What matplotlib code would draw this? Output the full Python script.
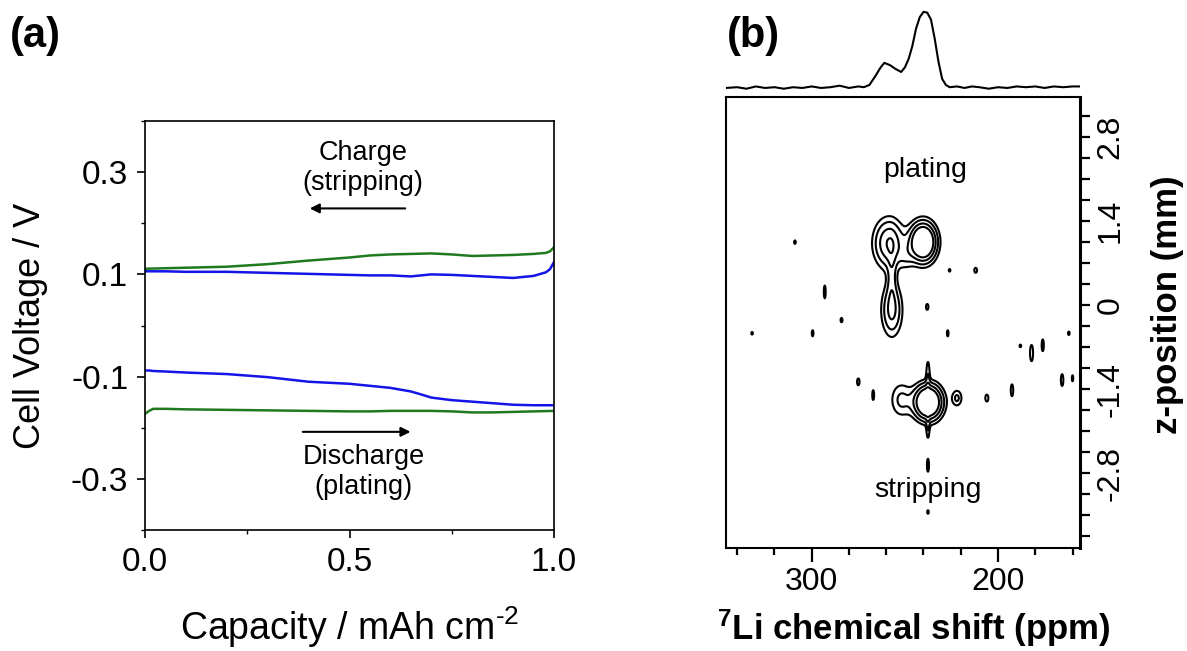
import numpy as np
import matplotlib
matplotlib.use("Agg")
import matplotlib.pyplot as plt
from matplotlib.ticker import MultipleLocator

plt.rcParams['font.family'] = ['Liberation Sans', 'DejaVu Sans']
plt.rcParams['mathtext.fontset'] = 'custom'
plt.rcParams['mathtext.rm'] = 'Liberation Sans'
plt.rcParams['mathtext.bf'] = 'Liberation Sans:bold'

# (a) voltage profiles
cap_charge = [0, 0.05, 0.1, 0.15, 0.2, 0.3, 0.4, 0.5, 0.55, 0.6, 0.65, 0.7, 0.75,
              0.8, 0.85, 0.9, 0.95, 0.98, 0.99, 1.0]
green_charge = [0.111, 0.112, 0.113, 0.114, 0.115, 0.120, 0.127, 0.133, 0.137, 0.139,
                0.140, 0.141, 0.139, 0.136, 0.137, 0.138, 0.140, 0.142, 0.145, 0.153]
blue_charge = [0.106, 0.106, 0.105, 0.105, 0.105, 0.103, 0.101, 0.099, 0.098, 0.098,
               0.096, 0.100, 0.099, 0.097, 0.095, 0.093, 0.097, 0.104, 0.110, 0.124]

cap_dis = [0, 0.01, 0.02, 0.05, 0.1, 0.2, 0.3, 0.4, 0.5, 0.55, 0.6, 0.65, 0.68,
           0.7, 0.75, 0.8, 0.85, 0.9, 0.95, 1.0]
blue_dis = [-0.088, -0.088, -0.089, -0.090, -0.092, -0.095, -0.101, -0.110, -0.114,
            -0.118, -0.122, -0.129, -0.136, -0.141, -0.146, -0.149, -0.152, -0.155,
            -0.156, -0.156]
green_dis = [-0.173, -0.167, -0.163, -0.163, -0.164, -0.165, -0.166, -0.167, -0.168,
             -0.168, -0.167, -0.167, -0.167, -0.167, -0.168, -0.170, -0.170, -0.169,
             -0.168, -0.167]

# (b) top projection spectrum
spec_ppm = [346, 340, 335, 330, 325, 320, 315, 310, 305, 300, 295, 290, 285, 280, 275,
            272, 269, 266, 263, 261, 258, 255, 252, 250, 248, 246, 244, 242, 240, 238,
            236, 234, 232, 230, 228, 226, 222, 218, 214, 210, 205, 200, 195, 190, 185,
            180, 175, 170, 165, 160, 156]
spec_int = [0.0, 0.01, -0.01, 0.02, 0.0, 0.01, -0.01, 0.01, 0.0, 0.02, 0.0, 0.01, 0.03,
            0.0, 0.02, 0.01, 0.04, 0.15, 0.27, 0.33, 0.30, 0.25, 0.21, 0.27, 0.38, 0.55,
            0.78, 0.93, 1.0, 0.99, 0.90, 0.65, 0.35, 0.12, 0.04, 0.01, 0.02, 0.0, 0.02,
            0.01, -0.01, 0.01, 0.0, 0.02, 0.01, 0.02, 0.0, 0.02, 0.01, 0.02, 0.02]

# (b) contour features: centre (ppm, mm), widths, height
blob_ppm = [240.3, 258.6, 257, 257, 249, 237.6, 252, 222, 237.6, 237.6,
            309, 293, 284, 332, 299.5, 238, 226, 212, 227, 188, 182, 176, 162,
            275, 267, 192.5, 165.6, 160, 206, 237.6, 237.6]
blob_z = [1.05, 1.03, -0.08, 0.5, 0.82, -1.62, -1.58, -1.55, -1.13, -2.07,
          1.05, 0.22, -0.25, -0.47, -0.47, -0.03, 0.58, 0.58, -0.47, -0.68, -0.8, -0.67, -0.47,
          -1.28, -1.5, -1.42, -1.25, -1.22, -1.55, -2.67, -3.45]
blob_wppm = [4.4, 5.2, 3.7, 1.6, 3.0, 4.7, 4.0, 2.0, 0.8, 0.7,
             0.6, 0.6, 0.7, 0.6, 0.6, 0.8, 0.6, 0.9, 0.6, 0.6, 0.9, 0.7, 0.6,
             0.8, 0.6, 0.8, 0.8, 0.5, 1.0, 0.6, 0.6]
blob_wz = [0.2, 0.26, 0.29, 0.34, 0.15, 0.18, 0.2, 0.1, 0.2, 0.15,
           0.04, 0.13, 0.05, 0.03, 0.07, 0.06, 0.03, 0.05, 0.07, 0.03, 0.15, 0.12, 0.04,
           0.07, 0.1, 0.12, 0.12, 0.07, 0.07, 0.12, 0.04]
blob_amp = [1.0, 0.45, 0.33, 0.16, 0.12, 1.0, 0.2, 0.2, 0.15, 0.15,
            0.13, 0.14, 0.13, 0.13, 0.13, 0.14, 0.13, 0.14, 0.13, 0.13, 0.15, 0.14, 0.13,
            0.14, 0.14, 0.14, 0.14, 0.13, 0.14, 0.15, 0.13]
levels = [0.1, 0.18, 0.3, 0.45]

GREEN = '#1f7a1f'
BLUE = '#1414e6'
W, H = 1187, 651

fig = plt.figure(figsize=(W / 100, H / 100), dpi=100)

# ---- panel (a)
ax1 = fig.add_axes([145 / W, (H - 530) / H, 409 / W, 409 / H])
ax1.plot(cap_charge, green_charge, color=GREEN, lw=1.8)
ax1.plot(cap_charge, blue_charge, color=BLUE, lw=1.8)
ax1.plot(cap_dis, blue_dis, color=BLUE, lw=1.8)
ax1.plot(cap_dis, green_dis, color=GREEN, lw=1.8)
ax1.set_xlim(0, 1)
ax1.set_ylim(-0.4, 0.4)
ax1.set_xticks([0, 0.5, 1.0])
ax1.set_xticklabels(['0.0', '0.5', '1.0'])
ax1.set_yticks([-0.3, -0.1, 0.1, 0.3])
ax1.set_yticklabels(['-0.3', '-0.1', '0.1', '0.3'])
ax1.xaxis.set_minor_locator(MultipleLocator(0.25))
ax1.yaxis.set_minor_locator(MultipleLocator(0.1))
ax1.tick_params(which='major', direction='out', length=6, width=1.2, labelsize=24, pad=6)
ax1.tick_params(which='minor', direction='out', length=3, width=1.0)
for s in ax1.spines.values():
    s.set_linewidth(1.2)
ax1.set_ylabel('Cell Voltage / V', fontsize=26)
ax1.yaxis.set_label_coords(-0.238, 0.5)
ax1.set_xlabel('Capacity / mAh cm$^{\u2010 2}$', fontsize=27, labelpad=19)

ax1.text(0.533, 0.308, 'Charge\n(stripping)', ha='center', va='center', fontsize=19.5)
ax1.annotate('', xy=(0.396, 0.229), xytext=(0.643, 0.229),
             arrowprops=dict(arrowstyle='-|>', color='black', lw=1.5, mutation_scale=14))
ax1.text(0.535, -0.286, 'Discharge\n(plating)', ha='center', va='center', fontsize=19.5)
ax1.annotate('', xy=(0.656, -0.208), xytext=(0.379, -0.208),
             arrowprops=dict(arrowstyle='-|>', color='black', lw=1.5, mutation_scale=14))

# ---- panel (b) contour map
ax2 = fig.add_axes([726 / W, (H - 548) / H, 354 / W, 451 / H])
ppm = np.linspace(156, 346, 800)
zz = np.linspace(-4.05, 3.47, 800)
P, Z = np.meshgrid(ppm, zz)
field = np.zeros_like(P)
for x0, z0, wx, wz, a in zip(blob_ppm, blob_z, blob_wppm, blob_wz, blob_amp):
    field += a * np.exp(-0.5 * ((P - x0) / wx) ** 2 - 0.5 * ((Z - z0) / wz) ** 2)
ax2.contour(P, Z, field, levels=levels, colors='black', linewidths=1.5)
ax2.set_xlim(346, 156)
ax2.set_ylim(-4.05, 3.47)
ax2.set_xticks([300, 200])
ax2.xaxis.set_minor_locator(MultipleLocator(20))
ax2.yaxis.tick_right()
ax2.yaxis.set_label_position('right')
ax2.set_yticks([-2.8, -1.4, 0, 1.4, 2.8])
ax2.set_yticklabels(['-2.8', '-1.4', '0', '1.4', '2.8'], rotation=90, va='center')
ax2.yaxis.set_minor_locator(MultipleLocator(0.35))
ax2.tick_params(axis='x', which='major', direction='out', length=10, width=1.6, labelsize=23, pad=4)
ax2.tick_params(axis='x', which='minor', direction='out', length=5, width=1.6)
ax2.tick_params(axis='y', which='both', direction='out', length=7, width=1.6, labelsize=23, pad=4)
for s in ax2.spines.values():
    s.set_linewidth(1.5)
ax2.spines['right'].set_linewidth(2.2)
ax2.set_xlabel('$\\mathbf{^7}$Li chemical shift (ppm)', fontsize=25, fontweight='bold', labelpad=7)
ax2.xaxis.label.set_x(0.53)
ax2.set_ylabel('z-position (mm)', fontsize=25, fontweight='bold')
ax2.yaxis.set_label_coords(1.2, 0.54)
ax2.text(239, 2.25, 'plating', ha='center', va='center', fontsize=20.5)
ax2.text(237.6, -3.08, 'stripping', ha='center', va='center', fontsize=20.5)

# ---- projection on top
ax3 = fig.add_axes([726 / W, (H - 92) / H, 354 / W, 87 / H])
ax3.plot(spec_ppm, spec_int, color='black', lw=1.5)
ax3.set_xlim(346, 156)
ax3.set_ylim(-0.053, 1.09)
ax3.axis('off')

fig.text(10 / W, 1 - 36 / H, '(a)', fontsize=30, fontweight='bold', va='center')
fig.text(727 / W, 1 - 36 / H, '(b)', fontsize=30, fontweight='bold', va='center')

fig.savefig('out.png', dpi=100)
